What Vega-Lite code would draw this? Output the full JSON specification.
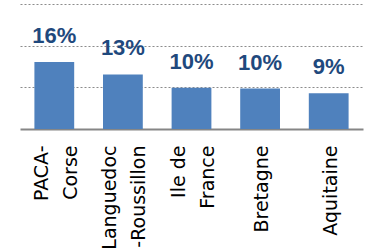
{
  "$schema": "https://vega.github.io/schema/vega-lite/v6.json",
  "width": 343,
  "height": 125,
  "padding": {"left": 20, "top": 4, "right": 2, "bottom": 122},
  "autosize": {"type": "none"},
  "background": "white",
  "data": {
    "values": [
      {"region": "PACA-|Corse", "value": 0.161},
      {"region": "Languedoc|-Roussillon", "value": 0.131},
      {"region": "Ile de|France", "value": 0.099},
      {"region": "Bretagne", "value": 0.097},
      {"region": "Aquitaine", "value": 0.086}
    ]
  },
  "config": {
    "view": {"stroke": null},
    "font": "Liberation Sans"
  },
  "encoding": {
    "x": {
      "field": "region",
      "type": "nominal",
      "sort": null,
      "scale": {"paddingInner": 0.42, "paddingOuter": 0.21},
      "axis": {
        "title": null,
        "labelExpr": "split(datum.value, '|')",
        "labelAngle": -90,
        "labelFont": "DejaVu Sans",
        "labelFontSize": 19,
        "labelColor": "#000000",
        "labelLineHeight": 29,
        "labelPadding": 16,
        "labelOffset": {"condition": {"test": "indexof(datum.value, '|') >= 0", "value": -12.5}, "value": 2},
        "ticks": false,
        "domainColor": "#868686",
        "domainWidth": 2,
        "labelLimit": 300,
        "grid": false
      }
    },
    "y": {
      "field": "value",
      "type": "quantitative",
      "scale": {"domain": [0, 0.3], "nice": false},
      "axis": {
        "title": null,
        "labels": false,
        "ticks": false,
        "domain": false,
        "values": [0.1, 0.2, 0.3],
        "gridColor": "#8c8c8c",
        "gridDash": [2, 2],
        "gridWidth": 1.2
      }
    }
  },
  "layer": [
    {"mark": {"type": "bar", "color": "#4F81BD"}},
    {
      "mark": {"type": "text", "baseline": "alphabetic", "dy": -19, "fontSize": 22, "fontWeight": "bold", "color": "#1F497D"},
      "encoding": {"text": {"field": "value", "type": "quantitative", "format": ".0%"}}
    }
  ]
}
